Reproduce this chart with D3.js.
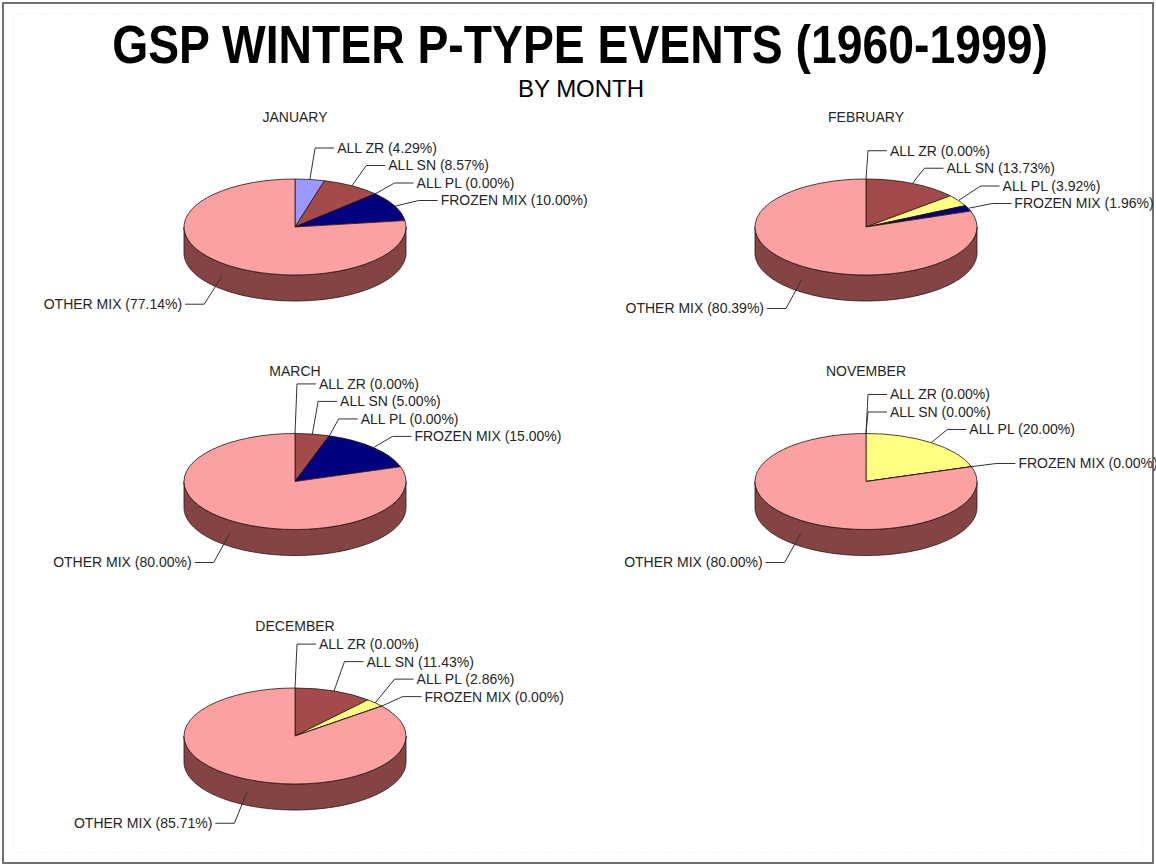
<!DOCTYPE html>
<html>
<head>
<meta charset="utf-8">
<script src="https://cdn.jsdelivr.net/npm/d3@7"></script>
<style>
  body { margin: 0; background: #fff; }
  text { font-family: 'Liberation Sans', Arial, sans-serif; fill: #262626; }
</style>
</head>
<body>
<div id="chart"></div>
<script>
const months = ['JANUARY', 'FEBRUARY', 'MARCH', 'NOVEMBER', 'DECEMBER'];
const categories = ['ALL ZR', 'ALL SN', 'ALL PL', 'FROZEN MIX', 'OTHER MIX'];
const janValues = [4.29, 8.57, 0.00, 10.00, 77.14];
const febValues = [0.00, 13.73, 3.92, 1.96, 80.39];
const marValues = [0.00, 5.00, 0.00, 15.00, 80.00];
const novValues = [0.00, 0.00, 20.00, 0.00, 80.00];
const decValues = [0.00, 11.43, 2.86, 0.00, 85.71];
const monthValues = [janValues, febValues, marValues, novValues, decValues];

const topColors = ['#9999ff', '#a34a4a', '#ffff80', '#000080', '#fba1a1'];
const sideColors = ['#4d4d80', '#522525', '#808040', '#000040', '#844444'];

const width = 1156;
const height = 866;
const rx = 111, ry = 48, depth = 26;

const svg = d3.select('#chart')
  .append('svg')
  .attr('width', width)
  .attr('height', height);

// frame
svg.append('rect')
  .attr('x', 3).attr('y', 3)
  .attr('width', width - 6).attr('height', height - 6)
  .attr('fill', '#fff')
  .attr('stroke', '#707070')
  .attr('stroke-width', 2);
svg.append('rect')
  .attr('x', 13.5).attr('y', 13.5)
  .attr('width', width - 27).attr('height', height - 27)
  .attr('fill', 'none')
  .attr('stroke', '#e6e6e6')
  .attr('stroke-dasharray', '1,2');

// title is squeezed horizontally to the narrow look of the original
const title = svg.append('text')
  .attr('text-anchor', 'middle')
  .attr('font-size', 53)
  .attr('font-weight', 'bold')
  .style('fill', '#000')
  .text('GSP WINTER P-TYPE EVENTS (1960-1999)');
const sx = 936 / title.node().getComputedTextLength();
title.attr('transform', `translate(580,63) scale(${sx},1)`);

svg.append('text')
  .attr('x', 581).attr('y', 97)
  .attr('text-anchor', 'middle')
  .attr('font-size', 24)
  .style('fill', '#000')
  .text('BY MONTH');

const col = d3.scalePoint().domain([0, 1]).range([295, 866]);
const row = d3.scaleLinear().domain([0, 2]).range([227, 736]);

const pie = d3.pie().sort(null).value(d => d);
const arc = d3.arc().innerRadius(0).outerRadius(1);
const line = d3.line();

const ex = t => rx * Math.sin(t);
const ey = t => -ry * Math.cos(t);

function wallPath(a0, a1) {
  const s = Math.max(a0, Math.PI / 2);
  const e = Math.min(a1, 3 * Math.PI / 2);
  if (e <= s) return null;
  const n = Math.max(2, Math.ceil((e - s) / 0.02));
  const ts = d3.range(n + 1).map(k => s + (e - s) * k / n);
  const upper = ts.map(t => [ex(t), ey(t)]);
  const lower = ts.slice().reverse().map(t => [ex(t), ey(t) + depth]);
  return line(upper.concat(lower)) + 'Z';
}

monthValues.forEach((values, i) => {
  const g = svg.append('g')
    .attr('transform', `translate(${col(i % 2)},${row(Math.floor(i / 2))})`);
  const arcs = pie(values);

  g.append('text')
    .attr('y', -110)
    .attr('dy', '0.35em')
    .attr('text-anchor', 'middle')
    .attr('font-size', 14)
    .text(months[i]);

  // side wall
  g.selectAll('path.wall')
    .data(arcs.filter(a => wallPath(a.startAngle, a.endAngle)))
    .enter()
    .append('path')
    .attr('class', 'wall')
    .attr('d', a => wallPath(a.startAngle, a.endAngle))
    .attr('fill', a => sideColors[a.index])
    .attr('stroke', '#2a1414')
    .attr('stroke-width', 0.8);

  // top face
  g.append('g')
    .attr('transform', `scale(${rx},${ry})`)
    .selectAll('path')
    .data(arcs)
    .enter()
    .append('path')
    .attr('d', arc)
    .attr('fill', a => topColors[a.index])
    .attr('stroke', '#2a1414')
    .attr('stroke-width', 0.8)
    .attr('vector-effect', 'non-scaling-stroke');

  // labels
  const labels = arcs.map(a => {
    const t = (a.startAngle + a.endAngle) / 2;
    const lower = Math.cos(t) < 0;
    return {
      a, t, lower,
      right: t < Math.PI,
      y: -68 * Math.cos(t) + 3 + (lower ? 23 : 0),
      tx: 135 * Math.sin(t) + (t < Math.PI ? 24 : -24),
      px: ex(t),
      py: ey(t) + (lower ? depth / 2 : 0),
    };
  });
  const rightLabels = labels
    .filter(d => d.right)
    .sort((p, q) => (q.t - p.t) || (q.a.index - p.a.index));
  rightLabels.forEach((d, k) => {
    if (k > 0) d.y = Math.min(d.y, rightLabels[k - 1].y - 17.5);
  });

  g.selectAll('path.leader')
    .data(labels)
    .enter()
    .append('path')
    .attr('class', 'leader')
    .attr('d', d => {
      const s = d.right ? -1 : 1;
      return line([[d.px, d.py], [d.tx + s * 22, d.y], [d.tx + s * 3, d.y]]);
    })
    .attr('fill', 'none')
    .attr('stroke', '#333')
    .attr('stroke-width', 1);

  g.selectAll('text.label')
    .data(labels)
    .enter()
    .append('text')
    .attr('class', 'label')
    .attr('x', d => d.tx)
    .attr('y', d => d.y)
    .attr('dy', '0.35em')
    .attr('text-anchor', d => d.right ? 'start' : 'end')
    .attr('font-size', 14)
    .text(d => `${categories[d.a.index]} (${d.a.data.toFixed(2)}%)`);
});
</script>
</body>
</html>
